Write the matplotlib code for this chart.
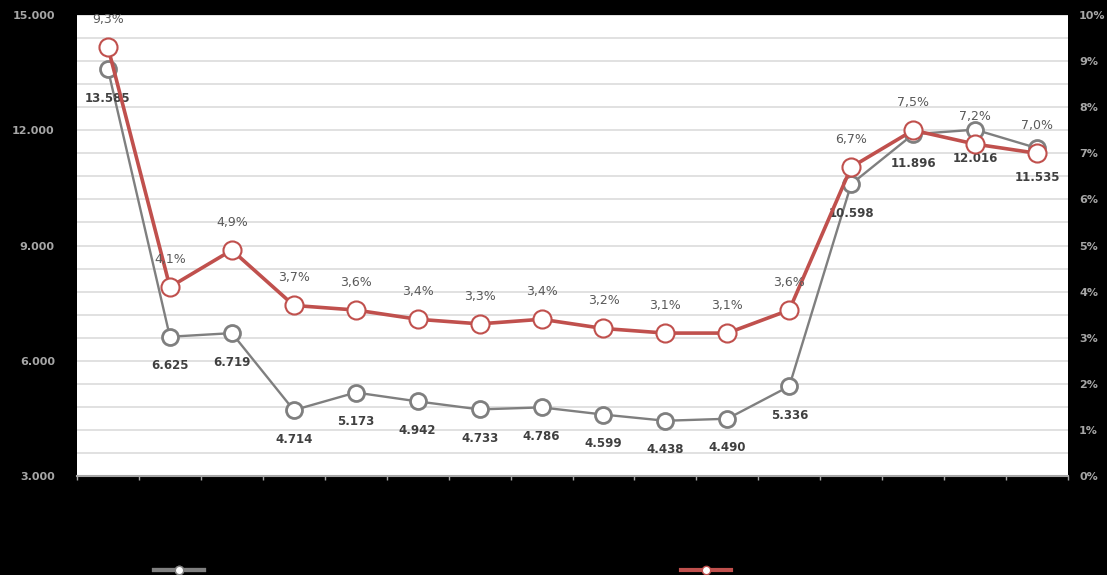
import numpy as np
import matplotlib.pyplot as plt
from matplotlib.lines import Line2D

# values (x labels are not visible there)
positions = np.arange(16)
volumes = [13585, 6625, 6719, 4714, 5173, 4942, 4733, 4786,
           4599, 4438, 4490, 5336, 10598, 11896, 12016, 11535]
rates = [9.3, 4.1, 4.9, 3.7, 3.6, 3.4, 3.3, 3.4,
         3.2, 3.1, 3.1, 3.6, 6.7, 7.5, 7.2, 7.0]

left_ticks = [3000, 6000, 9000, 12000, 15000]
right_ticks = list(range(0, 11))

GREY = '#7f7f7f'
RED = '#c0504d'
TICK_COL = '#a6a6a6'

W, H = 1107, 575
fig = plt.figure(figsize=(W / 100, H / 100), dpi=100, facecolor='black')
ax = fig.add_axes([77 / W, 1 - 476 / H, (1068 - 77) / W, (476 - 15) / H])
ax.set_facecolor('white')

# volume series on the left axis
ax.plot(positions, volumes, color=GREY, lw=1.7, marker='o', ms=11.5,
        mfc='white', mec=GREY, mew=2, zorder=3)
for x, v in zip(positions, volumes):
    ax.annotate(f"{v:,.0f}".replace(',', '.'), (x, v), xytext=(0, -21),
                textcoords='offset points', ha='center', va='center',
                fontsize=8.5, fontweight='bold', color='#404040', zorder=5)

ax.set_xlim(-0.5, 15.5)
ax.set_ylim(3000, 15000)
ax.set_yticks(left_ticks)
ax.set_yticklabels([f"{v:,.0f}".replace(',', '.') for v in left_ticks])
ax.set_yticks(np.arange(3000, 15001, 600), minor=True)
ax.grid(True, axis='y', which='both', color='#dcdcdc', lw=1.2)
ax.set_axisbelow(True)
ax.tick_params(axis='y', which='both', length=0, pad=16,
               labelcolor=TICK_COL, labelsize=8)
for lab in ax.get_yticklabels():
    lab.set_fontweight('bold')

ax.set_xticks(np.arange(-0.5, 16, 1))
ax.set_xticklabels([])
ax.tick_params(axis='x', length=3, width=1, color=TICK_COL)
for s in ['left', 'right', 'top']:
    ax.spines[s].set_visible(False)
ax.spines['bottom'].set_color(TICK_COL)
ax.spines['bottom'].set_linewidth(1.5)

# rate series on the right axis
ax2 = ax.twinx()
ax2.plot(positions, rates, color=RED, lw=2.6, marker='o', ms=13,
         mfc='white', mec=RED, mew=1.5, zorder=3)
for x, r in zip(positions, rates):
    ax2.annotate(f"{r:.1f}%".replace('.', ','), (x, r), xytext=(0, 20),
                 textcoords='offset points', ha='center', va='center',
                 fontsize=9, color='#595959', zorder=5)
ax2.set_ylim(0, 10)
ax2.set_yticks(right_ticks)
ax2.set_yticklabels([f"{t}%" for t in right_ticks])
ax2.tick_params(axis='y', length=0, pad=8, labelcolor=TICK_COL, labelsize=8)
for lab in ax2.get_yticklabels():
    lab.set_fontweight('bold')
for s in ax2.spines.values():
    s.set_visible(False)

# legend handles at the bottom edge (labels are not readable in the source)
grey_h = Line2D([], [], color=GREY, lw=3, marker='o', ms=6,
                mfc='white', mec=GREY)
red_h = Line2D([], [], color=RED, lw=3, marker='o', ms=6,
               mfc='white', mec=RED)
leg1 = fig.legend([grey_h], [''], loc='center', bbox_to_anchor=(179 / W, 4 / H),
                  frameon=False, handlelength=3.6, handletextpad=0)
fig.add_artist(leg1)
fig.legend([red_h], [''], loc='center', bbox_to_anchor=(706 / W, 4 / H),
           frameon=False, handlelength=3.6, handletextpad=0)

fig.savefig('out.png', dpi=100, facecolor='black')
